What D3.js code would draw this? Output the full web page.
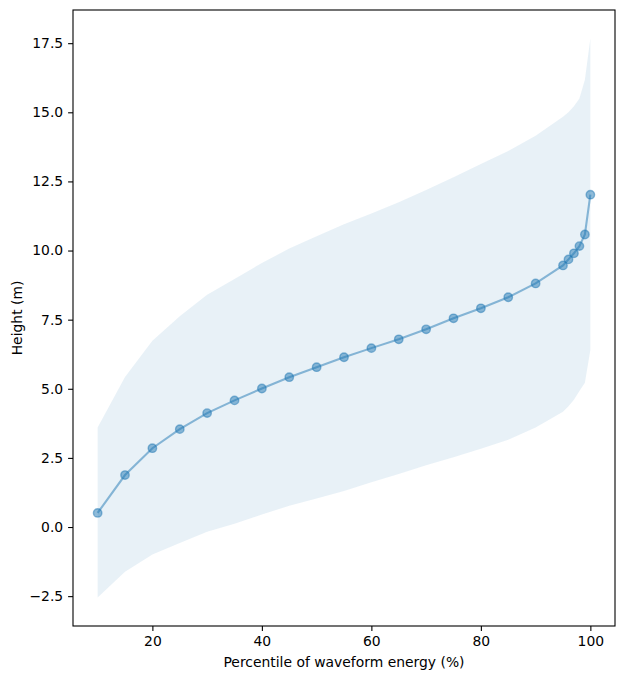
<!DOCTYPE html>
<html>
  <head>
    <meta charset="utf-8">
    <script src="https://cdn.jsdelivr.net/npm/d3@7"></script>
    <style>
      body { margin: 0; background: #fff; }
      text { font-family: "DejaVu Sans", sans-serif; }
    </style>
  </head>
  <body>
    <div id="chart"></div>
    <script>
      // percentiles of waveform energy
      const percentiles = [10, 15, 20, 25, 30, 35, 40, 45, 50, 55, 60, 65, 70, 75, 80, 85, 90, 95, 96, 97, 98, 99, 100];
      // median height at each percentile
      const heights = [0.51, 1.88, 2.85, 3.54, 4.12, 4.58, 5.01, 5.42, 5.78, 6.14, 6.47, 6.79, 7.15, 7.55, 7.91, 8.31, 8.81, 9.46, 9.68, 9.9, 10.16, 10.58, 12.02];
      // spread band
      const upper = [3.6, 5.43, 6.74, 7.62, 8.4, 8.97, 9.55, 10.07, 10.52, 10.95, 11.34, 11.75, 12.19, 12.65, 13.13, 13.6, 14.15, 14.84, 15.0, 15.22, 15.5, 16.18, 17.67];
      const lower = [-2.55, -1.62, -0.99, -0.58, -0.17, 0.12, 0.45, 0.77, 1.03, 1.3, 1.62, 1.92, 2.23, 2.52, 2.83, 3.16, 3.6, 4.17, 4.37, 4.6, 4.92, 5.22, 6.4];
      const xTicks = [20, 40, 60, 80, 100];
      const yTicks = [-2.5, 0, 2.5, 5, 7.5, 10, 12.5, 15, 17.5];

      const color = "#1f77b4";
      const fs = 13.9;
      let margin = { top: 10, right: 10, bottom: 53, left: 73 },
        width = 625 - margin.left - margin.right,
        height = 679 - margin.top - margin.bottom;

      let svg = d3.select("#chart")
        .append("svg")
        .attr("width", 625)
        .attr("height", 679);

      let vis = svg.append("g")
        .attr("transform", "translate(" + margin.left + "," + margin.top + ")");

      let x = d3.scaleLinear().domain([5.5, 104.5]).range([0, width]);
      let y = d3.scaleLinear().domain([-3.58, 18.7]).range([height, 0]);

      let rows = percentiles.map((p, i) => ({ p: p, h: heights[i], lo: lower[i], hi: upper[i] }));

      // band
      let area = d3.area()
        .x((d) => x(d.p))
        .y0((d) => y(d.lo))
        .y1((d) => y(d.hi));

      vis.append("path")
        .datum(rows)
        .attr("fill", color)
        .attr("fill-opacity", 0.1)
        .attr("d", area);

      // line + markers
      let line = d3.line().x((d) => x(d.p)).y((d) => y(d.h));
      vis.append("path")
        .datum(rows)
        .attr("fill", "none")
        .attr("stroke", color)
        .attr("stroke-opacity", 0.5)
        .attr("stroke-width", 2.08)
        .attr("d", line);

      vis.selectAll("circle.pt")
        .data(rows)
        .enter()
        .append("circle")
        .attr("class", "pt")
        .attr("cx", (d) => x(d.p))
        .attr("cy", (d) => y(d.h))
        .attr("r", 4.2)
        .attr("fill", color)
        .attr("fill-opacity", 0.5)
        .attr("stroke", color)
        .attr("stroke-opacity", 0.5)
        .attr("stroke-width", 1.4);

      // axes
      let xAxis = d3.axisBottom(x).tickValues(xTicks).tickSizeOuter(0).tickSize(4.9).tickPadding(4.9);
      let yAxis = d3.axisLeft(y).tickValues(yTicks).tickSizeOuter(0).tickSize(4.9).tickPadding(4.9)
        .tickFormat((d) => d3.format(".1f")(d).replace("-", "\u2212"));

      let gx = vis.append("g").attr("transform", "translate(0," + height + ")").call(xAxis);
      let gy = vis.append("g").call(yAxis);
      [gx, gy].forEach((g) => {
        g.select(".domain").remove();
        g.selectAll("text").attr("font-size", fs).attr("fill", "#000").attr("font-family", "DejaVu Sans");
        g.selectAll("line").attr("stroke", "#000").attr("stroke-width", 1.1);
      });

      // frame
      vis.append("rect")
        .attr("width", width)
        .attr("height", height)
        .attr("fill", "none")
        .attr("stroke", "#000")
        .attr("stroke-width", 1.1);

      // labels
      svg.append("text")
        .attr("x", margin.left + width / 2)
        .attr("y", 667)
        .attr("text-anchor", "middle")
        .attr("font-size", fs)
        .text("Percentile of waveform energy (%)");

      svg.append("text")
        .attr("transform", "translate(22," + (margin.top + height / 2) + ") rotate(-90)")
        .attr("text-anchor", "middle")
        .attr("font-size", fs)
        .text("Height (m)");
    </script>
  </body>
</html>
